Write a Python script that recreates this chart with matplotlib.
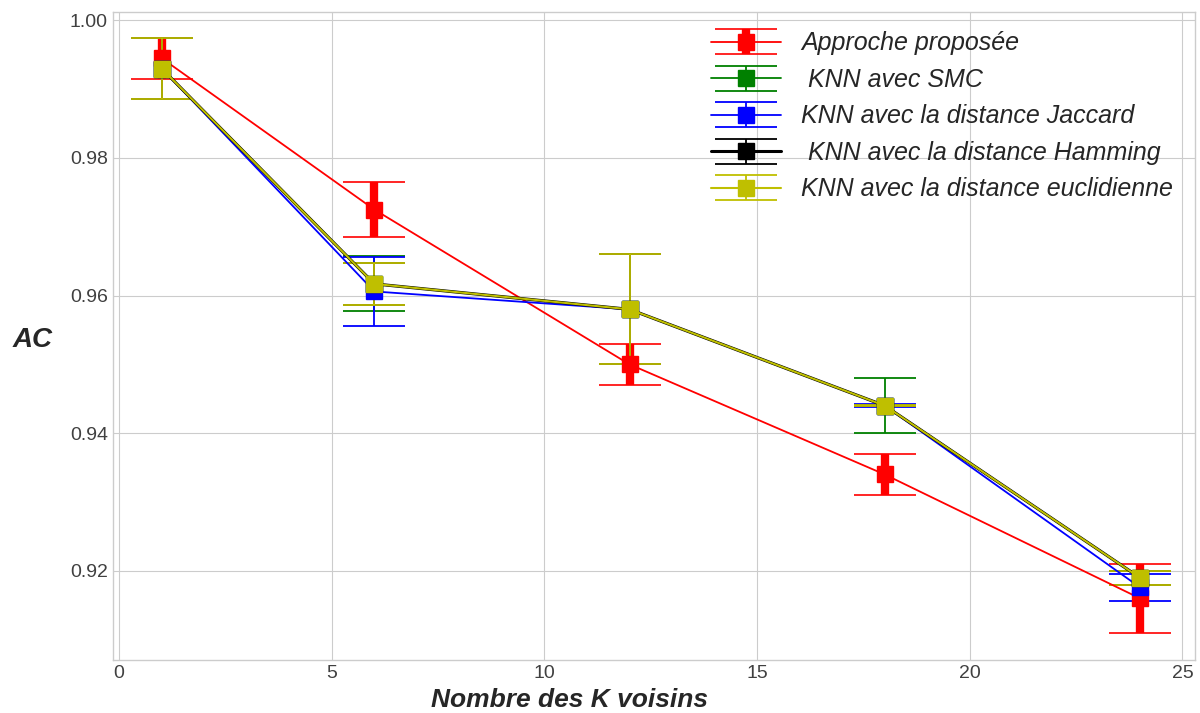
import matplotlib.pyplot as plt

plt.style.use('seaborn-v0_8-whitegrid')
plt.rcParams['font.family'] = ['Liberation Sans', 'DejaVu Sans']

# K values and accuracy (AC) per method
k_values = [1, 6, 12, 18, 24]

ac_proposee = [0.9945, 0.9725, 0.950, 0.934, 0.916]
err_proposee = [0.003, 0.004, 0.003, 0.003, 0.005]

ac_smc = [0.993, 0.9617, 0.958, 0.944, 0.919]
err_smc = [0.0045, 0.004, 0.008, 0.004, 0.001]

ac_jaccard = [0.993, 0.9606, 0.958, 0.944, 0.9176]
err_jaccard = [0.0045, 0.005, 0.008, 0.0002, 0.002]

ac_hamming = [0.993, 0.9617, 0.958, 0.944, 0.919]
err_hamming = [0.0045, 0.003, 0.008, 0.0001, 0.001]

ac_euclid = [0.993, 0.9617, 0.958, 0.944, 0.919]
err_euclid = [0.0045, 0.003, 0.008, 0.0001, 0.001]

labels = ['Approche proposée', ' KNN avec SMC', 'KNN avec la distance Jaccard',
          ' KNN avec la distance Hamming', 'KNN avec la distance euclidienne']

fig = plt.figure(figsize=(12, 7.13), dpi=100)
ax = fig.add_axes([0.094, 0.074, 0.902, 0.909])

# Proposed approach: thick error bars
ax.errorbar(k_values, ac_proposee, yerr=err_proposee, fmt='-s', color='r',
            lw=1.3, ms=11, elinewidth=6, capsize=22, capthick=1.2,
            label=labels[0])

series = [
    (ac_smc, err_smc, 'g', 1.3, labels[1]),
    (ac_jaccard, err_jaccard, 'b', 1.3, labels[2]),
    (ac_hamming, err_hamming, 'k', 2.2, labels[3]),
    (ac_euclid, err_euclid, 'y', 1.5, labels[4]),
]
for vals, errs, col, lw, lab in series:
    ax.errorbar(k_values, vals, yerr=errs, fmt='-s', color=col, lw=lw,
                ms=12, elinewidth=1.3, capsize=22, capthick=1.3, label=lab)

ax.set_xlim(-0.15, 25.3)
ax.set_ylim(0.907, 1.0012)
ax.set_xticks([0, 5, 10, 15, 20, 25])
ax.set_yticks([0.92, 0.94, 0.96, 0.98, 1.00])
ax.tick_params(labelsize=14, colors='#404040')

ax.set_xlabel('Nombre des K voisins', fontsize=19, fontweight='bold',
              fontstyle='italic', va='center')
ax.xaxis.set_label_coords(0.422, -0.062)
ax.set_ylabel('AC', fontsize=20, fontweight='bold', fontstyle='italic',
              rotation=0, ha='center', va='center')
ax.yaxis.set_label_coords(-0.074, 0.494)

for s in ax.spines.values():
    s.set_visible(True)
    s.set_color('#cccccc')

leg = ax.legend(loc='upper right', bbox_to_anchor=(1.0, 1.005), frameon=False,
                prop={'style': 'italic', 'size': 18}, handlelength=2.8,
                labelspacing=0.5, handletextpad=0.8)

fig.savefig('out.png', dpi=100, facecolor='white')
